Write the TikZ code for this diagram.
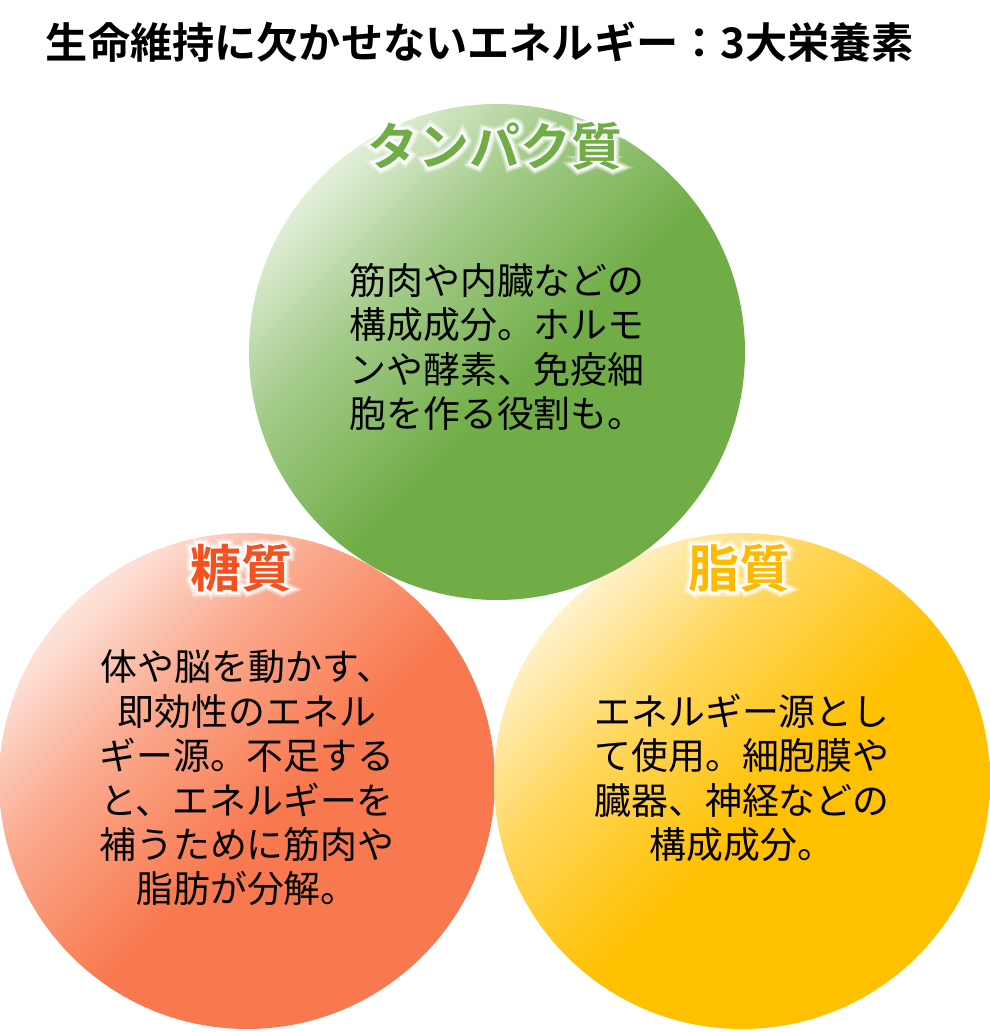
\documentclass[tikz,border=0pt]{standalone}
\usepackage{fontspec}
\usepackage{xcolor}
\usepackage{tikz}
\usetikzlibrary{positioning,calc}

\newfontfamily\jp{Noto Sans CJK JP}
\newfontfamily\jpb{Noto Sans CJK JP Bold}
\newfontfamily\glowa[FakeBold=7]{Noto Sans CJK JP Bold}
\newfontfamily\glowb[FakeBold=13]{Noto Sans CJK JP Bold}
\newfontfamily\glowc[FakeBold=20]{Noto Sans CJK JP Bold}

\definecolor{gdark}{HTML}{70AD47}
\definecolor{glight}{HTML}{E2EFDA}
\colorlet{gmid}{gdark!55!glight}
\definecolor{odark}{HTML}{F8794F}
\definecolor{olight}{HTML}{FDE5DC}
\colorlet{omid}{odark!55!olight}
\definecolor{ydark}{HTML}{FFC000}
\definecolor{ylight}{HTML}{FFF2CC}
\colorlet{ymid}{ydark!55!ylight}
\definecolor{olabel}{HTML}{F5501E}
\definecolor{ylabel}{HTML}{FFB900}

% light corner top left, full colour past the middle
\pgfdeclareverticalshading{greenball}{100bp}{color(0bp)=(gdark); color(46bp)=(gdark); color(62bp)=(gmid); color(75bp)=(glight); color(100bp)=(glight)}
\pgfdeclareverticalshading{orangeball}{100bp}{color(0bp)=(odark); color(46bp)=(odark); color(62bp)=(omid); color(75bp)=(olight); color(100bp)=(olight)}
\pgfdeclareverticalshading{yellowball}{100bp}{color(0bp)=(ydark); color(46bp)=(ydark); color(62bp)=(ymid); color(75bp)=(ylight); color(100bp)=(ylight)}

\begin{document}
\begin{tikzpicture}[
  x=0.02cm, y=0.02cm,
  every node/.style={inner sep=0pt},
  ball/.style={rotate=45, scale=5.6237},
  body/.style={font=\jp\fontsize{21pt}{25.3pt}\selectfont, align=center},
  lbl/.style={font=\jpb\fontsize{29pt}{30pt}\selectfont},
  halo1/.style={font=\glowc\fontsize{29pt}{30pt}\selectfont, text=white, text opacity=.35},
  halo2/.style={font=\glowb\fontsize{29pt}{30pt}\selectfont, text=white, text opacity=.6},
  halo3/.style={font=\glowa\fontsize{29pt}{30pt}\selectfont, text=white},
]
\useasboundingbox (0,0) rectangle (990,1032);

\coordinate (gC) at (497,680);
\coordinate (oC) at (247,251);
\coordinate (yC) at (742,251);

% title
\node[font=\jpb\fontsize{24pt}{26pt}\selectfont] (title) at (480,990) {生命維持に欠かせないエネルギー：3大栄養素};

% circles
\begin{scope}
  \clip (oC) circle (248);
  \node[ball] (oBall) at (oC) {\pgfuseshading{orangeball}};
\end{scope}
\begin{scope}
  \clip (yC) circle (248);
  \node[ball] (yBall) at (yC) {\pgfuseshading{yellowball}};
\end{scope}
\begin{scope}
  \clip (gC) circle (248);
  \node[ball] (gBall) at (gC) {\pgfuseshading{greenball}};
\end{scope}

% labels
\node[halo1] (gH1) at (495,886) {タンパク質};
\node[halo2] (gH2) at (495,886) {タンパク質};
\node[halo3] (gH3) at (495,886) {タンパク質};
\node[lbl, text=gdark] (gLbl) at (495,886) {タンパク質};

\node[halo1] (oH1) at (241,464) {糖質};
\node[halo2] (oH2) at (241,464) {糖質};
\node[halo3] (oH3) at (241,464) {糖質};
\node[lbl, text=olabel] (oLbl) at (241,464) {糖質};

\node[halo1] (yH1) at (739,464) {脂質};
\node[halo2] (yH2) at (739,464) {脂質};
\node[halo3] (yH3) at (739,464) {脂質};
\node[lbl, text=ylabel] (yLbl) at (739,464) {脂質};

% texts
\node[body] (gTxt) at (497,685) {筋肉や内臓などの\\構成成分。ホルモ\\ンや酵素、免疫細\\胞を作る役割も。};
\node[body] (oTxt) at (247,254) {体や脳を動かす、\\即効性のエネル\\ギー源。不足する\\と、エネルギーを\\補うために筋肉や\\脂肪が分解。};
\node[body] (yTxt) at (742,254) {エネルギー源とし\\て使用。細胞膜や\\臓器、神経などの\\構成成分。};
\end{tikzpicture}
\end{document}
